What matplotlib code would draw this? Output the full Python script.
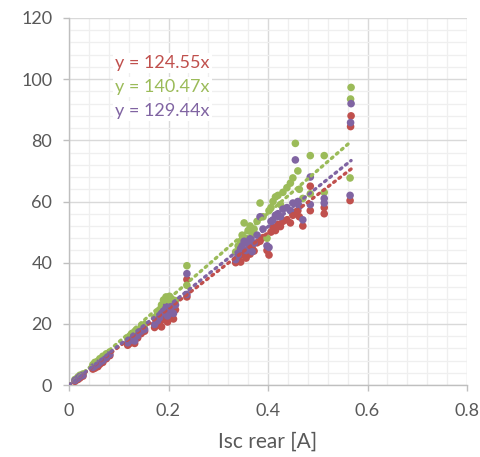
import matplotlib
matplotlib.use("Agg")
import matplotlib.pyplot as plt
import numpy as np
from matplotlib.ticker import MultipleLocator

plt.rcParams['font.family'] = ['Lato', 'DejaVu Sans']

# ---- data ----
isc_rear = [0.012, 0.018, 0.022, 0.028,
            0.048, 0.052, 0.058, 0.062, 0.068, 0.075, 0.082,
            0.118, 0.122, 0.128, 0.132, 0.138, 0.145, 0.152,
            0.172, 0.178, 0.182, 0.186, 0.190, 0.195, 0.198, 0.202, 0.206, 0.210, 0.214,
            0.237, 0.237,
            0.335, 0.340, 0.345, 0.348, 0.352, 0.356, 0.360, 0.364, 0.368, 0.372, 0.378,
            0.384, 0.390, 0.398, 0.402, 0.406, 0.410, 0.415, 0.420, 0.425, 0.430, 0.438,
            0.445, 0.450, 0.455, 0.460, 0.463, 0.470,
            0.485, 0.485, 0.513, 0.513, 0.565, 0.566, 0.567]

red_vals = [1.2, 1.8, 2.3, 2.9,
            5.2, 5.5, 6.0, 6.8, 7.4, 8.6, 9.6,
            13.0, 13.6, 14.2, 13.6, 15.4, 16.8, 17.6,
            18.8, 19.6, 20.4, 19.0, 21.4, 22.0, 20.6, 22.8, 23.6, 21.6, 24.6,
            34.5, 28.8,
            40.0, 41.0, 40.2, 42.5, 43.5, 41.5, 44.2, 42.8, 45.0, 43.8, 46.5,
            47.0, 48.2, 44.0, 42.5, 50.0, 51.5, 50.5, 52.5, 51.8, 53.5, 54.0,
            53.0, 55.5, 56.5, 57.0, 55.0, 52.0,
            65.0, 57.0, 58.0, 56.0, 60.3, 84.5, 88.0]

green_vals = [1.8, 2.6, 3.2, 3.6,
              6.6, 7.4, 7.8, 8.6, 9.4, 10.2, 10.8,
              15.2, 16.0, 16.8, 17.5, 17.8, 19.0, 19.8,
              22.0, 23.4, 24.6, 26.2, 27.8, 28.8, 26.6, 29.0, 28.2, 27.0, 27.6,
              39.0, 32.6,
              43.5, 45.5, 47.0, 49.0, 53.0, 48.0, 50.5, 52.0, 49.5, 51.0, 53.5,
              59.5, 55.0, 48.0, 57.0, 58.0, 60.0, 61.5, 62.0, 59.0, 63.0, 64.5,
              66.0, 67.7, 79.0, 70.0, 64.0, 61.0,
              75.0, 62.5, 75.0, 63.0, 67.7, 93.5, 97.3]

purple_vals = [1.5, 2.2, 2.8, 3.2,
               5.8, 6.2, 6.8, 7.4, 8.0, 9.0, 10.0,
               13.8, 14.5, 15.2, 14.4, 16.2, 17.6, 18.2,
               19.8, 21.0, 22.0, 23.4, 24.2, 25.6, 22.6, 24.8, 25.6, 23.4, 26.2,
               36.4, 29.6,
               41.0, 42.5, 44.6, 45.5, 47.0, 44.0, 46.2, 47.8, 43.6, 46.4, 49.0,
               55.0, 51.0, 45.5, 45.0, 53.5, 54.0, 55.5, 56.0, 55.0, 57.5, 58.0,
               57.0, 59.5, 73.6, 60.0, 58.5, 54.0,
               68.0, 59.0, 61.0, 59.5, 62.0, 85.8, 92.0]

slopes = [124.55, 140.47, 129.44]
labels = ["y = 124.55x", "y = 140.47x", "y = 129.44x"]
colors = ["#C0504D", "#9BBB59", "#8064A2"]

x_ticks = [0, 0.2, 0.4, 0.6, 0.8]
x_tick_labels = ["0", "0.2", "0.4", "0.6", "0.8"]
y_ticks = [0, 20, 40, 60, 80, 100, 120]

# ---- figure ----
fig = plt.figure(figsize=(4.81, 4.57), dpi=100)
ax = fig.add_axes([69/481, 1-385/457, (467-69)/481, (385-18)/457])

ax.set_xlim(0, 0.8)
ax.set_ylim(0, 120)
ax.set_xticks(x_ticks)
ax.set_xticklabels(x_tick_labels)
ax.set_yticks(y_ticks)
ax.xaxis.set_minor_locator(MultipleLocator(0.04))
ax.yaxis.set_minor_locator(MultipleLocator(4))
ax.grid(which='minor', color='#EFEFEF', linewidth=0.9, zorder=0)
ax.grid(which='major', color='#D9D9D9', linewidth=1.0, zorder=0)
ax.set_axisbelow(True)

for s in ['top', 'right']:
    ax.spines[s].set_visible(False)
for s in ['left', 'bottom']:
    ax.spines[s].set_color('#BFBFBF')
    ax.spines[s].set_linewidth(1.0)

ax.tick_params(which='major', length=4, color='#BFBFBF', width=1.0,
               labelsize=13, labelcolor='#595959')
ax.tick_params(axis='y', pad=8)
ax.tick_params(axis='x', pad=9)
ax.tick_params(which='minor', length=0)

xs = np.array(isc_rear)
series = [red_vals, green_vals, purple_vals]
for yv, c in zip(series, colors):
    ax.scatter(xs, yv, s=30, color=c, edgecolors='none', zorder=3)

xline = np.linspace(0, xs.max(), 200)
for k, c in zip(slopes, colors):
    ax.plot(xline, k * xline, linestyle=(0, (0.6, 1.4)), dash_capstyle='round',
            color=c, linewidth=2.4, zorder=4)

label_y = [105.3, 97.4, 89.6]
for t, c, yy in zip(labels, colors, label_y):
    ax.text(0.093, yy, t, color=c, fontsize=13, va='center', ha='left', zorder=5,
            bbox=dict(facecolor='white', edgecolor='none', pad=1.5))

ax.set_xlabel("Isc rear [A]", fontsize=15, color='#595959', labelpad=9)

fig.savefig("out.png", dpi=100)
